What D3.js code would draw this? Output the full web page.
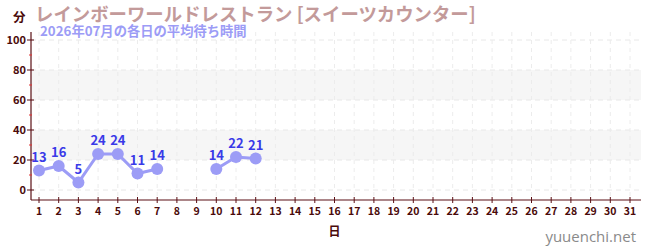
<!DOCTYPE html>
<html><head><meta charset="utf-8">
<script src="https://cdn.jsdelivr.net/npm/d3@7"></script>
<style>body{margin:0;background:#fff}svg{display:block}</style>
</head><body>
<script>
const days = d3.range(1, 32);
const waits = [13,16,5,24,24,11,14,null,null,14,22,21,null,null,null,null,null,null,null,null,null,null,null,null,null,null,null,null,null,null,null];
const yTicks = [0,20,40,60,80,100];
const yMinor = [10,30,50,70,90];
const bands = [[20,40],[60,80]];
const title = "レインボーワールドレストラン [スイーツカウンター]";
const subtitle = "2026年07月の各日の平均待ち時間";
const yLabel = "分", xLabel = "日", credit = "yuuenchi.net";

(function(){
const W=650,H=250;
const font = "'Noto Sans CJK JP','Noto Sans',sans-serif";
const svg = d3.select("body").append("svg").attr("width",W).attr("height",H).style("font-family",font);
const x = d3.scaleLinear().domain([1,31]).range([39,630]);
const y = d3.scaleLinear().domain([0,100]).range([190,40]);
const pL=31, pR=641, pT=32, pB=200;
const axisColor="#5a0f14";

svg.selectAll("rect.band").data(bands).join("rect")
  .attr("x",pL).attr("width",pR-pL)
  .attr("y",d=>y(d[1])).attr("height",d=>y(d[0])-y(d[1]))
  .attr("fill","#f6f6f6");
svg.selectAll("line.hg").data(yTicks).join("line")
  .attr("x1",pL).attr("x2",pR).attr("y1",d=>y(d)).attr("y2",d=>y(d))
  .attr("stroke","#e8e8e8").attr("stroke-dasharray","5,4");
svg.selectAll("line.vg").data(days).join("line")
  .attr("x1",d=>x(d)).attr("x2",d=>x(d)).attr("y1",pT).attr("y2",pB)
  .attr("stroke","#ececec").attr("stroke-dasharray","4,4");

svg.append("line").attr("x1",pL).attr("x2",pL).attr("y1",pT).attr("y2",pB).attr("stroke",axisColor).attr("stroke-width",1.2);
svg.append("line").attr("x1",pL).attr("x2",pR).attr("y1",pB).attr("y2",pB).attr("stroke",axisColor).attr("stroke-width",1.2);
svg.selectAll("line.yt").data(yTicks).join("line")
  .attr("x1",pL-4).attr("x2",pL+3).attr("y1",d=>y(d)).attr("y2",d=>y(d)).attr("stroke",axisColor);
svg.selectAll("line.ym").data(yMinor).join("line")
  .attr("x1",pL-2).attr("x2",pL+1).attr("y1",d=>y(d)).attr("y2",d=>y(d)).attr("stroke","#e03030");
svg.selectAll("text.yl").data(yTicks).join("text")
  .attr("x",pL-5).attr("y",d=>y(d)).attr("dy","0.35em").attr("text-anchor","end")
  .attr("font-size",11).attr("font-weight","bold").attr("fill","#4a0a0a").text(d=>d);
svg.selectAll("line.xt").data(days).join("line")
  .attr("x1",d=>x(d)).attr("x2",d=>x(d)).attr("y1",pB-3).attr("y2",pB+3).attr("stroke",axisColor);
svg.selectAll("text.xl").data(days).join("text")
  .attr("x",d=>x(d)).attr("y",pB+15).attr("text-anchor","middle")
  .attr("font-size",10.5).attr("font-weight","bold").attr("fill","#4a0a0a").text(d=>d);

const pts = days.map((d,i)=>({d,v:waits[i]}));
const line = d3.line().defined(p=>p.v!=null).x(p=>x(p.d)).y(p=>y(p.v));
svg.append("path").datum(pts).attr("d",line).attr("fill","none").attr("stroke","#9c9cf6").attr("stroke-width",3);
const valid = pts.filter(p=>p.v!=null);
svg.selectAll("circle.pt").data(valid).join("circle")
  .attr("cx",p=>x(p.d)).attr("cy",p=>y(p.v)).attr("r",6).attr("fill","#9c9cf6");
svg.selectAll("text.vl").data(valid).join("text")
  .attr("x",p=>x(p.d)).attr("y",p=>y(p.v)-9).attr("text-anchor","middle")
  .attr("font-size",13).attr("font-weight","bold").attr("fill","#3a3ae8").text(p=>p.v);

svg.append("text").attr("x",35).attr("y",21).attr("font-size",18.4).attr("font-weight","bold").attr("fill","#c39a9a").text(title);
svg.append("text").attr("x",40).attr("y",36).attr("font-size",13.3).attr("font-weight","bold").attr("fill","#9c9cf6").text(subtitle);
svg.append("text").attr("x",13).attr("y",22).attr("font-size",12.5).attr("font-weight","bold").attr("fill","#4a0a0a").text(yLabel);
svg.append("text").attr("x",x(16)).attr("y",236).attr("text-anchor","middle").attr("font-size",12).attr("font-weight","bold").attr("fill","#4a0a0a").text(xLabel);
svg.append("text").attr("x",636).attr("y",242).attr("text-anchor","end").attr("font-size",15).attr("fill","#8a8a8a").attr("font-family","'Open Sans','Noto Sans',sans-serif").text(credit);
})();
</script>
</body></html>
